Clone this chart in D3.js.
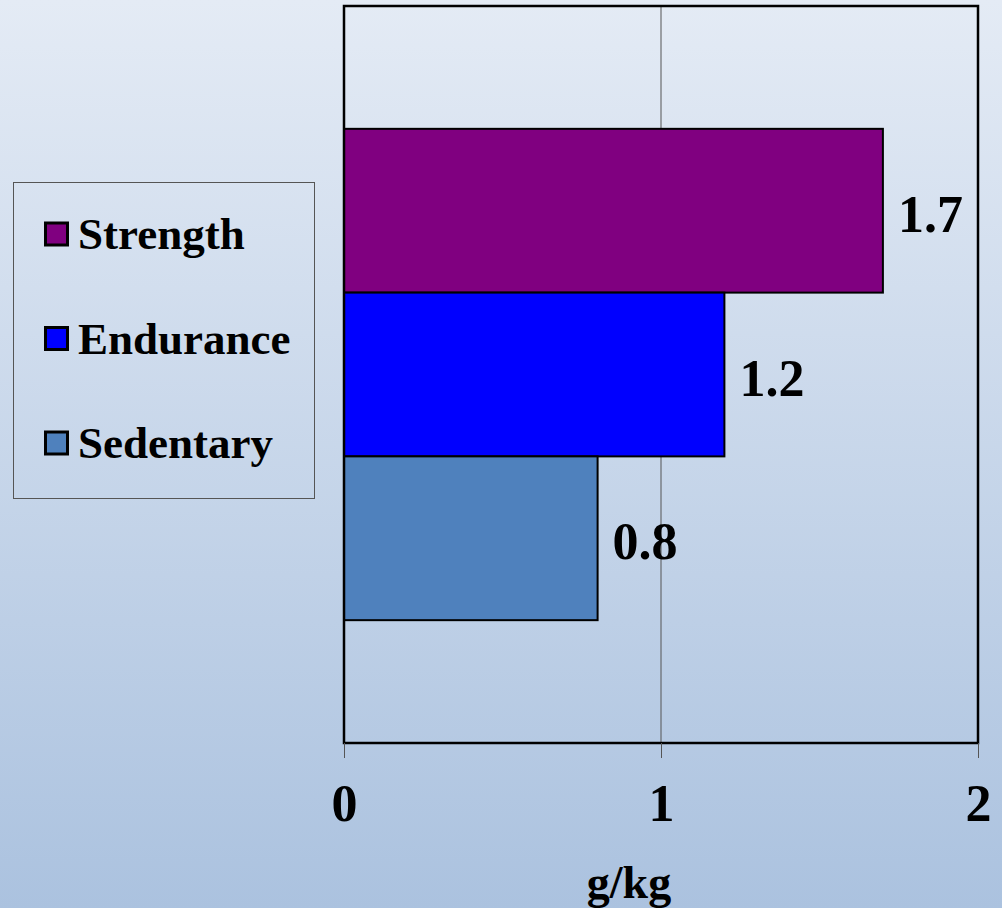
<!DOCTYPE html>
<html>
<head>
<meta charset="utf-8">
<script src="https://d3js.org/d3.v7.min.js"></script>
<style>
  html, body { margin: 0; padding: 0; }
  svg { display: block; }
  text { font-family: "Liberation Serif", "Times New Roman", serif; font-weight: bold; fill: #000; }
</style>
</head>
<body>
<script>
const series = ["Strength", "Endurance", "Sedentary"];
const values = [1.7, 1.2, 0.8];
const colors = ["#800080", "#0000ff", "#4f81bd"];
const xTicks = [0, 1, 2];
const xLabel = "g/kg";

const W = 1002, H = 908;
const svg = d3.select("body").append("svg").attr("width", W).attr("height", H);

const defs = svg.append("defs");
const grad = defs.append("linearGradient").attr("id", "bg").attr("x1", 0).attr("y1", 0).attr("x2", 0).attr("y2", 1);
grad.append("stop").attr("offset", "0%").attr("stop-color", "#e4ebf5");
grad.append("stop").attr("offset", "100%").attr("stop-color", "#abc2df");
svg.append("rect").attr("width", W).attr("height", H).attr("fill", "url(#bg)");

const plot = { left: 344, right: 978, top: 6, bottom: 743 };

const x = d3.scaleLinear().domain([0, 2]).range([plot.left, plot.right]);
const yOuter = d3.scaleBand().domain(["all"]).range([plot.top, plot.bottom]).paddingInner(0).paddingOuter(0.25);
const yInner = d3.scaleBand().domain(series).range([yOuter("all"), yOuter("all") + yOuter.bandwidth()]);

// gridlines
svg.append("g").selectAll("line").data(xTicks.filter(t => t > 0 && t < 2)).join("line")
  .attr("x1", d => x(d)).attr("x2", d => x(d))
  .attr("y1", plot.top).attr("y2", plot.bottom)
  .attr("stroke", "#555").attr("stroke-width", 1);

// bars
svg.append("g").selectAll("rect").data(series).join("rect")
  .attr("x", x(0))
  .attr("y", d => yInner(d))
  .attr("width", (d, i) => x(values[i]) - x(0))
  .attr("height", yInner.bandwidth())
  .attr("fill", (d, i) => colors[i])
  .attr("stroke", "#000").attr("stroke-width", 2);

// plot border
svg.append("rect")
  .attr("x", plot.left).attr("y", plot.top)
  .attr("width", plot.right - plot.left).attr("height", plot.bottom - plot.top)
  .attr("fill", "none").attr("stroke", "#000").attr("stroke-width", 2.5);

// value labels
svg.append("g").selectAll("text").data(series).join("text")
  .attr("x", (d, i) => x(values[i]) + 15)
  .attr("y", d => yInner(d) + yInner.bandwidth() / 2 + 21)
  .attr("font-size", 52)
  .text((d, i) => values[i].toFixed(1));

// x axis
const axis = d3.axisBottom(x).tickValues(xTicks).tickSize(15).tickPadding(26).tickFormat(d3.format("d"));
const ax = svg.append("g").attr("transform", `translate(0,${plot.bottom})`).call(axis);
ax.select(".domain").remove();
ax.selectAll(".tick line").attr("stroke", "#555").attr("stroke-width", 1);
ax.selectAll(".tick text").attr("font-size", 52).attr("font-family", "Liberation Serif, serif")
  .attr("font-weight", "bold").attr("fill", "#000");

svg.append("text")
  .attr("x", 629).attr("y", 898)
  .attr("text-anchor", "middle")
  .attr("font-size", 46)
  .text(xLabel);

// legend
const lg = svg.append("g");
lg.append("rect").attr("x", 13.5).attr("y", 182.5).attr("width", 301).attr("height", 316)
  .attr("fill", "none").attr("stroke", "#555").attr("stroke-width", 1);
const legendY = d3.scalePoint().domain(series).range([249, 458]);
const items = lg.selectAll("g.item").data(series).join("g").attr("class", "item");
items.append("rect")
  .attr("x", 45.5).attr("y", d => legendY(d) - 26)
  .attr("width", 22).attr("height", 22)
  .attr("fill", (d, i) => colors[i])
  .attr("stroke", "#000").attr("stroke-width", 3);
items.append("text")
  .attr("x", 78).attr("y", d => legendY(d))
  .attr("font-size", 45)
  .text(d => d);
</script>
</body>
</html>
